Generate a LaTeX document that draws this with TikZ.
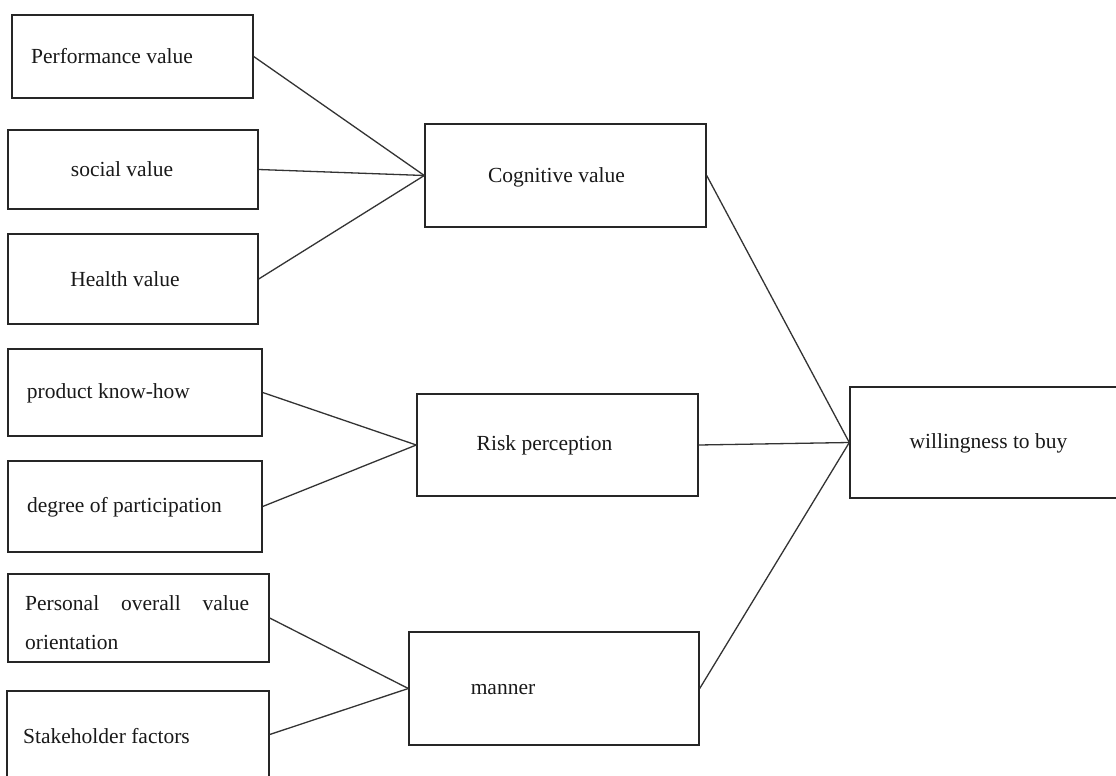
\documentclass[tikz,border=0pt]{standalone}
\usepackage{fontspec}
\setmainfont{Liberation Serif}
\begin{document}
\begin{tikzpicture}[x=1pt,y=-1pt,
  box/.style={draw=black!85,line width=1.4pt,inner sep=0pt,minimum width=#1},
  lbl/.style={inner sep=0pt,font=\fontsize{21.5}{27}\selectfont,text=black!90},
  link/.style={draw=black!80,line width=1.3pt}]
\useasboundingbox (0,0) rectangle (1116,776);
\clip (0,0) rectangle (1116,776);
\fill[white] (0,0) rectangle (1116,776);
% boxes
\node[box=241pt,minimum height=83pt] (perf) at (132.5,56.5) {};
\node[box=250pt,minimum height=79pt] (soc) at (133,169.5) {};
\node[box=250pt,minimum height=90pt] (hea) at (133,279) {};
\node[box=254pt,minimum height=87pt] (prod) at (135,392.5) {};
\node[box=254pt,minimum height=91pt] (deg) at (135,506.5) {};
\node[box=261pt,minimum height=88pt] (pers) at (138.5,618) {};
\node[box=262pt,minimum height=87pt] (stake) at (138,734.5) {};
\node[box=281pt,minimum height=103pt] (cog) at (565.5,175.5) {};
\node[box=281pt,minimum height=102pt] (risk) at (557.5,445) {};
\node[box=290pt,minimum height=113pt] (man) at (554,688.5) {};
\node[box=290pt,minimum height=111pt] (will) at (995,442.5) {};
% labels
\node[lbl] (tperf) at (112,56) {Performance value};
\node[lbl] (tsoc) at (122,169) {social value};
\node[lbl] (thea) at (125,279) {Health value};
\node[lbl] (tprod) at (108.5,393) {product know-how};
\node[lbl] (tdeg) at (124.5,507) {degree of participation};
\node[lbl,font=\fontsize{21.5}{39}\selectfont,anchor=west,text width=224pt,align=justify] (tpers) at (25,623) {Personal\hfill overall\hfill value\\orientation};
\node[lbl] (tstake) at (106.5,736) {Stakeholder factors};
\node[lbl] (tcog) at (556.5,177) {Cognitive value};
\node[lbl] (trisk) at (544.5,445) {Risk perception};
\node[lbl] (tman) at (503,690) {manner};
\node[lbl] (twill) at (988.5,443) {willingness to buy};
% connectors
\draw[link] (perf.east) -- (cog.west);
\draw[link] (soc.east) -- (cog.west);
\draw[link] (hea.east) -- (cog.west);
\draw[link] (prod.east) -- (risk.west);
\draw[link] (deg.east) -- (risk.west);
\draw[link] (pers.east) -- (man.west);
\draw[link] (stake.east) -- (man.west);
\draw[link] (cog.east) -- (will.west);
\draw[link] (risk.east) -- (will.west);
\draw[link] (man.east) -- (will.west);
\end{tikzpicture}
\end{document}
